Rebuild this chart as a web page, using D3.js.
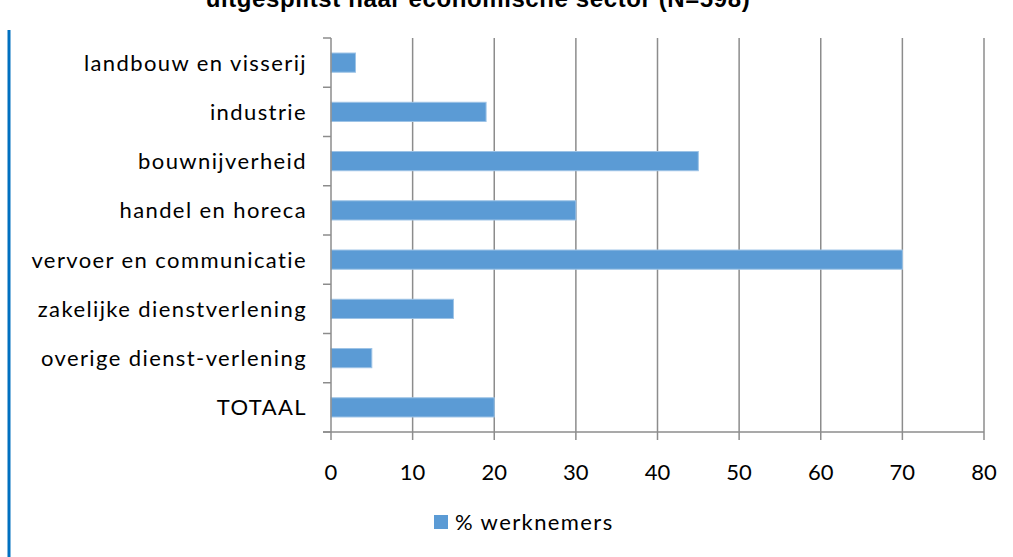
<!DOCTYPE html>
<html>
<head>
<meta charset="utf-8">
<script src="https://cdn.jsdelivr.net/npm/d3@7"></script>
<style>
    html, body { margin: 0; padding: 0; background: #fff; }
    svg { display: block; }
</style>
</head>
<body>
<div id="chart"></div>
<script>
const sectors = [
    'landbouw  en visserij',
    'industrie',
    'bouwnijverheid',
    'handel en horeca',
    'vervoer en communicatie',
    'zakelijke dienstverlening',
    'overige dienst-verlening',
    'TOTAAL'
];
const werknemers = [3, 19, 45, 30, 70, 15, 5, 20];
const xTicks = [0, 10, 20, 30, 40, 50, 60, 70, 80];
const seriesName = '% werknemers';
const chartTitle = 'uitgesplitst naar economische sector (N=598)';

const width = 1013;
const height = 557;
const margin = { top: 38, right: 29, bottom: 125, left: 331 };
const labelFont = 'Lato, "Open Sans", sans-serif';
const labelSize = 22;
const labelSpacing = '1.4px';

const svg = d3.select('#chart')
    .append('svg')
    .attr('width', width)
    .attr('height', height);

const x = d3.scaleLinear()
    .domain([0, 80])
    .range([margin.left, width - margin.right]);

const y = d3.scaleBand()
    .domain(sectors)
    .range([margin.top, height - margin.bottom])
    .paddingInner(0.61)
    .paddingOuter(0.305);

const plotTop = margin.top;
const plotBottom = height - margin.bottom;
const step = y.step();

// title, cut off at the top edge like the original crop
svg.append('text')
    .attr('x', 478)
    .attr('y', 7)
    .attr('text-anchor', 'middle')
    .attr('font-family', '"Liberation Sans", Arial, sans-serif')
    .attr('font-weight', 'bold')
    .attr('font-size', 24)
    .attr('letter-spacing', '0.6px')
    .attr('fill', '#000')
    .text(chartTitle);

// blue bar on the left edge
svg.append('line')
    .attr('x1', 9).attr('x2', 9)
    .attr('y1', 30).attr('y2', height)
    .attr('stroke', '#0070c0')
    .attr('stroke-width', 3);

// vertical gridlines
svg.append('g')
    .selectAll('line')
    .data(xTicks.slice(1))
    .join('line')
    .attr('x1', (d) => x(d))
    .attr('x2', (d) => x(d))
    .attr('y1', plotTop)
    .attr('y2', plotBottom + 8)
    .attr('stroke', '#8c8c8c')
    .attr('stroke-width', 1.5);

// bars
svg.append('g')
    .selectAll('rect')
    .data(werknemers)
    .join('rect')
    .attr('x', x(0))
    .attr('y', (d, i) => y(sectors[i]))
    .attr('width', (d) => x(d) - x(0))
    .attr('height', y.bandwidth())
    .attr('fill', '#5b9bd5')
    .attr('stroke', '#9dc3e6')
    .attr('stroke-width', 1);

// y axis line with ticks at category boundaries
const yAxis = svg.append('g').attr('stroke', '#8c8c8c').attr('stroke-width', 1.5);
yAxis.append('line')
    .attr('x1', x(0)).attr('x2', x(0))
    .attr('y1', plotTop).attr('y2', plotBottom + 8);
yAxis.selectAll('line.tick')
    .data(d3.range(sectors.length + 1))
    .join('line')
    .attr('class', 'tick')
    .attr('x1', x(0) - 8)
    .attr('x2', x(0))
    .attr('y1', (i) => plotTop + i * step)
    .attr('y2', (i) => plotTop + i * step);

// x axis baseline
svg.append('line')
    .attr('x1', x(0) - 8)
    .attr('x2', x(80))
    .attr('y1', plotBottom)
    .attr('y2', plotBottom)
    .attr('stroke', '#8c8c8c')
    .attr('stroke-width', 1.5);

// category labels
svg.append('g')
    .selectAll('text')
    .data(sectors)
    .join('text')
    .attr('x', x(0) - 24)
    .attr('y', (d) => y(d) + y.bandwidth() / 2)
    .attr('dy', '0.36em')
    .attr('text-anchor', 'end')
    .attr('font-family', labelFont)
    .attr('font-size', labelSize)
    .attr('letter-spacing', labelSpacing)
    .attr('fill', '#000')
    .text((d) => d);

// x tick labels
svg.append('g')
    .selectAll('text')
    .data(xTicks)
    .join('text')
    .attr('x', (d) => x(d))
    .attr('y', 480)
    .attr('text-anchor', 'middle')
    .attr('font-family', labelFont)
    .attr('font-size', labelSize)
    .attr('fill', '#000')
    .text((d) => d);

// legend
const legend = svg.append('g').attr('transform', 'translate(434,515)');
legend.append('rect')
    .attr('width', 14)
    .attr('height', 14)
    .attr('fill', '#5b9bd5');
legend.append('text')
    .attr('x', 21)
    .attr('y', 15)
    .attr('font-family', labelFont)
    .attr('font-size', labelSize)
    .attr('letter-spacing', labelSpacing)
    .attr('fill', '#000')
    .text(seriesName);
</script>
</body>
</html>
